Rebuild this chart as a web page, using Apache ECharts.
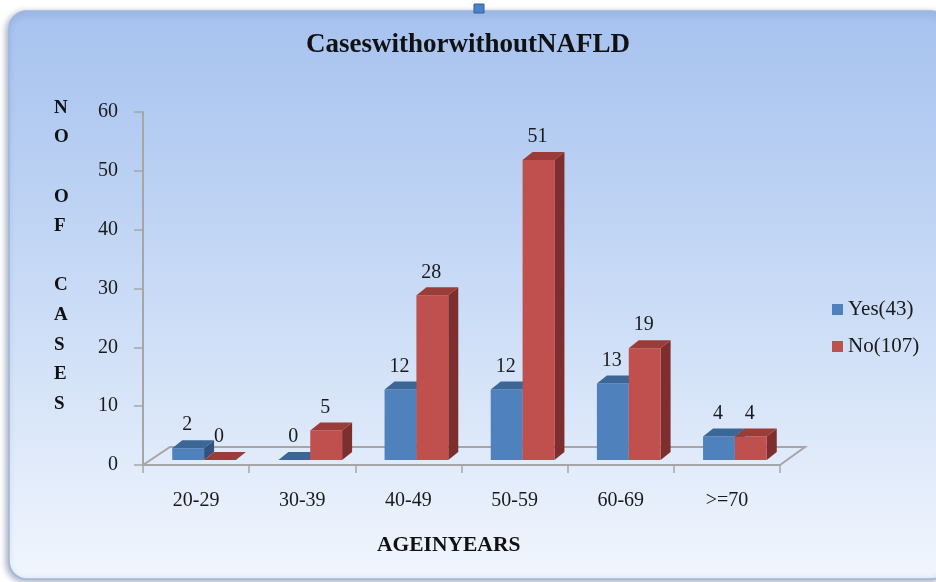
<!DOCTYPE html>
<html>
<head>
<meta charset="utf-8">
<script src="https://cdn.jsdelivr.net/npm/echarts@6/dist/echarts.min.js"></script>
<style>html,body{margin:0;padding:0;background:#fff;}#c{width:936px;height:582px;}</style>
</head>
<body>
<div id="c"></div>
<script>
const categories = ['20-29', '30-39', '40-49', '50-59', '60-69', '>=70'];
const yesValues = [2, 0, 12, 12, 13, 4];
const noValues = [0, 5, 28, 51, 19, 4];
const seriesNames = ['Yes(43)', 'No(107)'];
const yTicks = { min: 0, max: 60, interval: 10 };
const titleText = 'CaseswithorwithoutNAFLD';
const yAxisTitle = ['N', 'O', '', 'O', 'F', '', 'C', 'A', 'S', 'E', 'S'];
const xAxisTitle = 'AGEINYEARS';

const SERIF = '"Liberation Serif", "Times New Roman", serif';
const palette = [
  { front: '#4F81BD', top: '#3B6696', side: '#30547F' },
  { front: '#C0504D', top: '#9C3C39', side: '#7E2F2D' }
];

const chart = echarts.init(document.getElementById('c'), null, { renderer: 'canvas' });

function barRenderer(idx) {
  return function (params, api) {
    const cat = api.value(0), val = api.value(1);
    const c0 = api.coord([cat, 0]);
    const c1 = api.coord([cat, val]);
    const bw = api.size([1, 0])[0] * 0.3;
    const ox = 8, oy = -5, dx = 10, dy = -8;
    const xl = c0[0] + ox + (idx === 0 ? -bw : 0);
    const yb = c0[1] + oy, yt = c1[1] + oy;
    const col = palette[idx];
    return {
      type: 'group',
      children: [
        { type: 'polygon', shape: { points: [[xl + bw, yt], [xl + bw + dx, yt + dy], [xl + bw + dx, yb + dy], [xl + bw, yb]] }, style: { fill: col.side } },
        { type: 'rect', shape: { x: xl, y: yt, width: bw, height: Math.max(yb - yt, 0) }, style: { fill: col.front } },
        { type: 'polygon', shape: { points: [[xl, yt], [xl + dx, yt + dy], [xl + bw + dx, yt + dy], [xl + bw, yt]] }, style: { fill: col.top } },
        { type: 'text', style: { text: String(val), x: xl + bw / 2 - 1, y: yt + dy - 5, align: 'center', verticalAlign: 'bottom', font: '20px ' + SERIF, fill: '#1a1a1a' } }
      ]
    };
  };
}

const option = {
  backgroundColor: '#ffffff',
  animation: false,
  graphic: [
    { type: 'rect', z: -10, shape: { x: 9, y: 11, width: 940, height: 568, r: 18 },
      style: { fill: new echarts.graphic.LinearGradient(0, 0, 0, 1, [
        { offset: 0, color: '#A6C2EF' }, { offset: 0.5, color: '#C9DBF6' }, { offset: 1, color: '#F1F6FD' }]),
        stroke: '#9FB6DC', lineWidth: 1.5, shadowColor: 'rgba(60,80,120,0.45)', shadowBlur: 6, shadowOffsetX: -2, shadowOffsetY: 2 } },
    { type: 'rect', z: -5, shape: { x: 474, y: 4, width: 10, height: 9 }, style: { fill: '#4F81C8', stroke: '#2F5E9E', lineWidth: 1 } },
    { type: 'text', z: 5, left: 54, top: 93, style: { text: yAxisTitle.join('\n'), font: 'bold 19px ' + SERIF, lineHeight: 29.6, fill: '#111', align: 'center' } },
    { type: 'text', z: 5, left: 377, top: 534, style: { text: xAxisTitle, font: 'bold 21.5px ' + SERIF, fill: '#111' } }
  ],
  title: {
    text: titleText, left: 'center', top: 27,
    textStyle: { fontFamily: SERIF, fontWeight: 'bold', fontSize: 27, color: '#111' }
  },
  legend: {
    data: seriesNames, orient: 'vertical', left: 827, top: 294, itemGap: 16,
    icon: 'rect', itemWidth: 11, itemHeight: 11,
    textStyle: { fontFamily: SERIF, fontSize: 21, color: '#1a1a1a' }
  },
  grid: { left: 143, right: 156, top: 112, bottom: 117, containLabel: false },
  xAxis: {
    type: 'category', data: categories,
    axisLine: { lineStyle: { color: '#A6A6A6', width: 2 } },
    axisTick: { show: true, length: 8, lineStyle: { color: '#A6A6A6', width: 1.5 } },
    axisLabel: { fontFamily: SERIF, fontSize: 20, color: '#1a1a1a', margin: 26 },
    splitLine: { show: false }
  },
  yAxis: {
    type: 'value', min: yTicks.min, max: yTicks.max, interval: yTicks.interval,
    axisLine: { show: true, lineStyle: { color: '#A6A6A6', width: 2 } },
    axisTick: { show: true, length: 9, lineStyle: { color: '#A6A6A6', width: 1.5 } },
    axisLabel: { fontFamily: SERIF, fontSize: 20, color: '#1a1a1a', margin: 25 },
    splitLine: { show: false }
  },
  series: [
    {
      name: 'floor', type: 'custom', silent: true, data: [[0, 0]],
      renderItem: function (params, api) {
        const cs = params.coordSys;
        const yb = cs.y + cs.height, xl = cs.x, xr = cs.x + cs.width;
        const dx = 25, dy = -18;
        return { type: 'polyline', shape: { points: [[xl, yb], [xl + dx + 2, yb + dy], [xr + dx, yb + dy], [xr, yb]] },
          style: { stroke: '#A6A6A6', lineWidth: 2, fill: 'none' } };
      }
    },
    { name: seriesNames[0], type: 'custom', itemStyle: { color: palette[0].front },
      data: yesValues.map((v, i) => [i, v]), encode: { x: 0, y: 1 }, renderItem: barRenderer(0) },
    { name: seriesNames[1], type: 'custom', itemStyle: { color: palette[1].front },
      data: noValues.map((v, i) => [i, v]), encode: { x: 0, y: 1 }, renderItem: barRenderer(1) }
  ]
};
chart.setOption(option);
</script>
</body>
</html>
